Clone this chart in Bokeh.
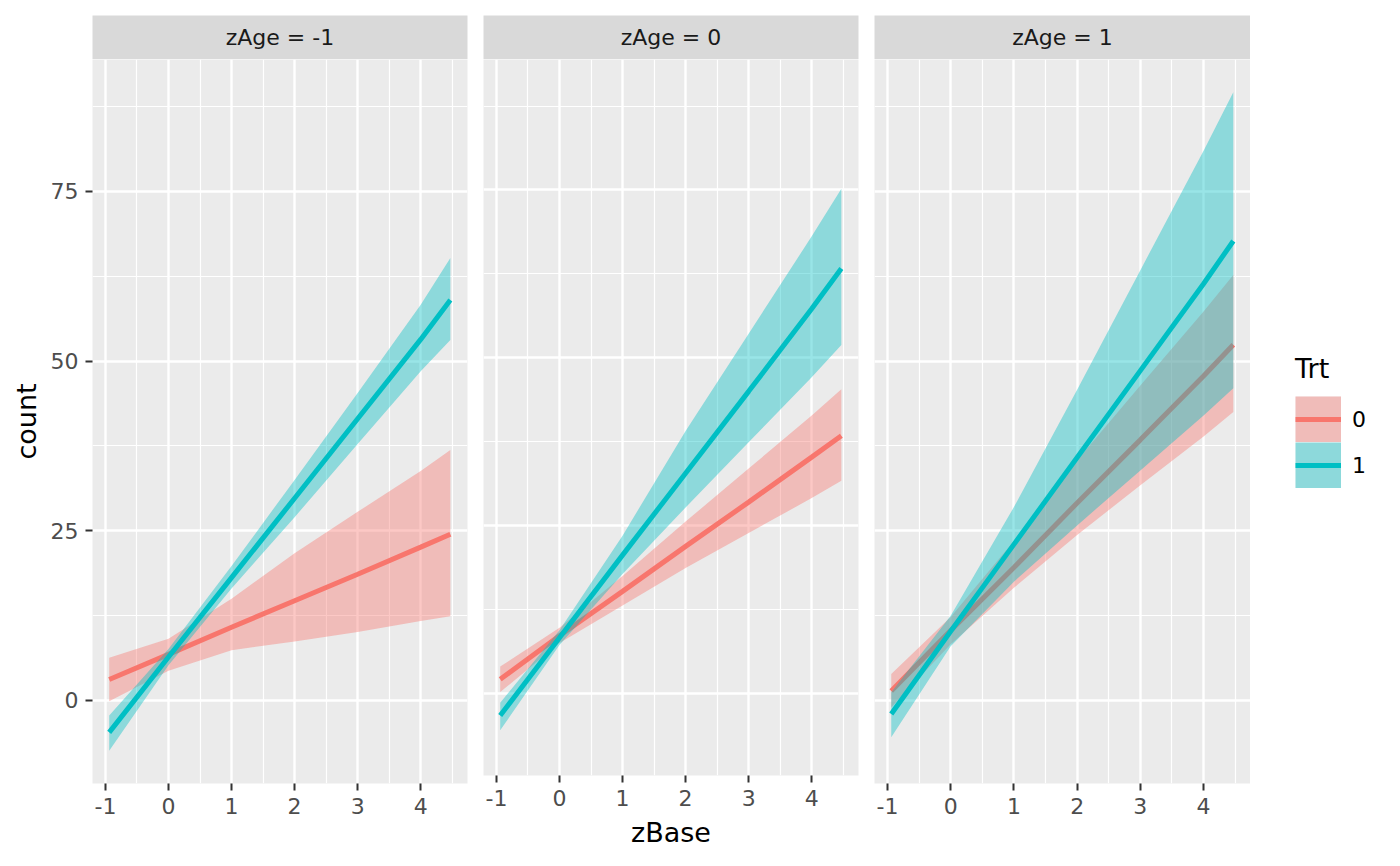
from bokeh.plotting import figure
from bokeh.layouts import row, column
from bokeh.models import Range1d, FixedTicker, Legend, LegendItem, Label
from bokeh.embed import file_html
from bokeh.resources import INLINE

# ---------------- data ----------------
zbase = [-0.94, 0, 1, 2, 3, 4, 4.47]
facet_labels = ["zAge = -1", "zAge = 0", "zAge = 1"]
trt_labels = ["0", "1"]

# zAge = -1
p1_fit0 = [3.1, 6.8, 10.8, 14.7, 18.6, 22.6, 24.5]
p1_lo0 = [-0.1, 4.4, 7.4, 8.7, 10.1, 11.7, 12.4]
p1_hi0 = [6.3, 9.1, 15.0, 21.7, 27.8, 33.8, 36.9]
p1_fit1 = [-4.7, 6.4, 18.1, 29.8, 41.5, 53.2, 59.0]
p1_lo1 = [-7.4, 5.2, 16.5, 27.0, 37.8, 48.5, 53.1]
p1_hi1 = [-2.2, 7.6, 19.8, 32.5, 45.3, 58.3, 65.2]

# zAge = 0
p2_fit0 = [2.1, 8.6, 15.2, 21.9, 28.5, 35.2, 38.4]
p2_lo0 = [0.2, 7.5, 13.1, 18.7, 23.9, 29.1, 31.7]
p2_hi0 = [4.0, 9.8, 17.5, 25.6, 33.5, 41.4, 45.3]
p2_fit1 = [-3.3, 8.3, 20.6, 32.8, 45.0, 57.3, 63.3]
p2_lo1 = [-5.5, 7.2, 17.8, 27.7, 37.4, 47.1, 51.9]
p2_hi1 = [-1.4, 9.4, 23.5, 39.1, 53.6, 68.1, 75.2]

# zAge = 1
p3_fit0 = [1.4, 10.3, 19.6, 29.1, 38.4, 47.8, 52.4]
p3_lo0 = [-1.0, 8.3, 16.6, 24.4, 31.7, 38.9, 42.5]
p3_hi0 = [3.9, 12.3, 23.5, 35.4, 46.4, 57.3, 62.7]
p3_fit1 = [-2.0, 10.2, 23.0, 35.8, 48.6, 61.4, 67.7]
p3_lo1 = [-5.4, 8.0, 17.5, 25.8, 33.9, 42.0, 46.0]
p3_hi1 = [1.2, 12.5, 28.5, 45.8, 63.4, 81.0, 89.6]

x_ticks = [-1, 0, 1, 2, 3, 4]
x_minor = [-0.5, 0.5, 1.5, 2.5, 3.5, 4.5]
y_ticks = [0, 25, 50, 75]
y_minor = [-12.5, 12.5, 37.5, 62.5, 87.5]

panels = [
    (p1_fit0, p1_lo0, p1_hi0, p1_fit1, p1_lo1, p1_hi1),
    (p2_fit0, p2_lo0, p2_hi0, p2_fit1, p2_lo1, p2_hi1),
    (p3_fit0, p3_lo0, p3_hi0, p3_fit1, p3_lo1, p3_hi1),
]

# ---------------- style ----------------
FONT = "DejaVu Sans"
COLORS = ["#F8766D", "#00BFC4"]
PANEL_BG = "#EBEBEB"
STRIP_BG = "#D9D9D9"
X_RANGE = (-1.205, 4.742)
Y_RANGE = (-12.23, 94.44)
LW = 5

widths = [483, 391, 376]
borders_left = [92, 0, 0]
borders_right = [16, 16, 0]
FRAME_H = 724
STRIP_H = 44
TOP = 15
BOTTOM = 67
LEG_W = 142
TOTAL_H = TOP + STRIP_H + FRAME_H + BOTTOM

columns = []
for i in range(3):
    # facet strip
    s = figure(width=widths[i], height=TOP + STRIP_H, x_range=Range1d(0, 1), y_range=Range1d(0, 1),
               x_axis_type=None, y_axis_type=None, toolbar_location=None, output_backend="svg",
               min_border_left=borders_left[i], min_border_right=borders_right[i],
               min_border_top=TOP, min_border_bottom=0)
    s.background_fill_color = STRIP_BG
    s.border_fill_color = "white"
    s.outline_line_color = None
    s.add_layout(Label(x=0.5, y=0.5, text=facet_labels[i], text_align="center", text_baseline="middle",
                       text_font=FONT, text_font_size="22px", text_color="#1A1A1A"))

    p = figure(width=widths[i], height=FRAME_H + BOTTOM, x_range=Range1d(*X_RANGE), y_range=Range1d(*Y_RANGE),
               toolbar_location=None, output_backend="svg",
               min_border_left=borders_left[i], min_border_right=borders_right[i],
               min_border_top=0, min_border_bottom=BOTTOM)
    p.background_fill_color = PANEL_BG
    p.border_fill_color = "white"
    p.outline_line_color = None

    xt = FixedTicker(ticks=x_ticks, minor_ticks=x_minor)
    yt = FixedTicker(ticks=y_ticks, minor_ticks=y_minor)
    p.xaxis.ticker = xt
    p.yaxis.ticker = yt
    p.xgrid.ticker = xt
    p.ygrid.ticker = yt
    for g in (p.xgrid, p.ygrid):
        g.grid_line_color = "white"
        g.grid_line_width = 2.4
        g.minor_grid_line_color = "white"
        g.minor_grid_line_width = 1.2

    for ax in (p.xaxis, p.yaxis):
        ax.axis_line_color = None
        ax.major_tick_line_color = "#333333"
        ax.major_tick_line_width = 2
        ax.major_tick_out = 7
        ax.major_tick_in = 0
        ax.minor_tick_line_color = None
        ax.major_label_text_font = FONT
        ax.major_label_text_font_size = "22px"
        ax.major_label_text_color = "#4D4D4D"
        ax.axis_label_text_font = FONT
        ax.axis_label_text_font_size = "27px"
        ax.axis_label_text_color = "black"
        ax.axis_label_text_font_style = "normal"
    p.xaxis.major_label_overrides = {-1: "-1"}
    p.xaxis.major_label_standoff = 7
    p.yaxis.major_label_standoff = 7
    p.xaxis.axis_label_standoff = 8
    p.yaxis.axis_label_standoff = 6

    if i == 0:
        p.yaxis.axis_label = "count"
    else:
        p.yaxis.visible = False
    if i == 1:
        p.xaxis.axis_label = "zBase"

    fit0, lo0, hi0, fit1, lo1, hi1 = panels[i]
    p.varea(x=zbase, y1=lo0, y2=hi0, fill_color=COLORS[0], fill_alpha=0.4)
    p.line(x=zbase, y=fit0, line_color=COLORS[0], line_width=LW)
    p.varea(x=zbase, y1=lo1, y2=hi1, fill_color=COLORS[1], fill_alpha=0.4)
    p.line(x=zbase, y=fit1, line_color=COLORS[1], line_width=LW)

    columns.append(column(s, p, spacing=0))

# ---------------- legend (Trt) ----------------
lg = figure(width=LEG_W, height=TOTAL_H, x_range=Range1d(0, 1), y_range=Range1d(0, 1),
            x_axis_type=None, y_axis_type=None, toolbar_location=None, output_backend="svg",
            min_border_left=0, min_border_right=0, min_border_top=0, min_border_bottom=0)
lg.outline_line_color = None
lg.background_fill_color = "white"
lg.border_fill_color = "white"
NAN = float("nan")
KEY = 46
items = []
for k in range(2):
    # proxy renderers for the legend keys only (NaN data: nothing is drawn in the figure);
    # very wide lines give full-size key squares (grey key bg + translucent ribbon colour)
    bg = lg.line(x=[NAN, NAN], y=[NAN, NAN], line_color=PANEL_BG, line_width=KEY)
    band = lg.line(x=[NAN, NAN], y=[NAN, NAN], line_color=COLORS[k], line_alpha=0.4, line_width=KEY)
    ln = lg.line(x=[NAN, NAN], y=[NAN, NAN], line_color=COLORS[k], line_width=LW)
    items.append(LegendItem(label=trt_labels[k], renderers=[bg, band, ln]))
legend = Legend(items=items, location=(45, TOTAL_H - 488), title="Trt",
                title_text_font=FONT, title_text_font_size="27px", title_text_color="black",
                title_text_font_style="normal", title_standoff=12,
                label_text_font=FONT, label_text_font_size="22px", label_text_color="black",
                glyph_width=KEY, glyph_height=KEY, label_standoff=11, spacing=0, padding=0, margin=0,
                border_line_color=None, background_fill_alpha=0)
lg.add_layout(legend, "center")

layout = row(*columns, lg, spacing=0)
open("out.html", "w").write(file_html(layout, INLINE))
